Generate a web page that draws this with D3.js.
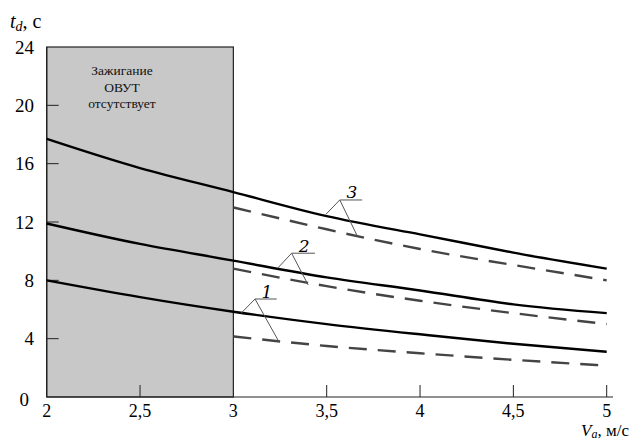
<!DOCTYPE html>
<html>
<head>
<meta charset="utf-8">
<script src="https://cdn.jsdelivr.net/npm/d3@7/dist/d3.min.js"></script>
<style>
  body { margin: 0; background: #fff; }
  text { font-family: "DejaVu Serif", serif; }
  text.ls { font-family: "Liberation Serif"; }
</style>
</head>
<body>
<div id="chart"></div>
<script>
var width = 635,
    height = 441;

// air velocity, m/s
var speeds = [2, 2.5, 3, 3.5, 4, 4.5, 5];
var speedsDashed = [3, 3.5, 4, 4.5, 5];

// ignition delay time, s (solid curves)
var solid1 = [8.0, 6.85, 5.85, 5.0, 4.3, 3.65, 3.1];
var solid2 = [11.9, 10.5, 9.35, 8.2, 7.3, 6.35, 5.75];
var solid3 = [17.7, 15.7, 14.05, 12.4, 11.15, 9.9, 8.8];

// dashed curves
var dashed1 = [4.15, 3.5, 3.0, 2.55, 2.15];
var dashed2 = [8.8, 7.6, 6.6, 5.75, 5.0];
var dashed3 = [13.0, 11.5, 10.15, 9.05, 8.0];

var xTicks = [2, 2.5, 3, 3.5, 4, 4.5, 5];
var yTicks = [0, 4, 8, 12, 16, 20, 24];
var noIgnition = [2, 3];
var boxText = ["Зажигание", "ОВУТ", "отсутствует"];

// callout labels: name, hub, end of shelf, solid end, dashed end (data coords)
var callouts = [
  { name: "1", hub: [3.116, 6.72], shelf: 3.232, solid: [3.041, 5.74], dashed: [3.246, 3.75] },
  { name: "2", hub: [3.312, 9.86], shelf: 3.437, solid: [3.237, 8.83], dashed: [3.401, 7.68] },
  { name: "3", hub: [3.57, 13.51], shelf: 3.69, solid: [3.496, 12.53], dashed: [3.666, 10.99] }
];

var x = d3.scaleLinear().domain([2, 5]).range([46.7, 606.7]);
var y = d3.scaleLinear().domain([0, 24]).range([397, 47]);

var svg = d3.select("#chart").append("svg")
    .attr("width", width)
    .attr("height", height)
    .style("display", "block");

// grey zone
svg.append("rect")
    .attr("x", x(noIgnition[0]))
    .attr("y", y(24))
    .attr("width", x(noIgnition[1]) - x(noIgnition[0]))
    .attr("height", y(0) - y(24))
    .attr("fill", "#c8c8c8")
    .attr("stroke", "#222")
    .attr("stroke-width", 1.2);

svg.append("text")
    .attr("class", "ls")
    .attr("font-size", 13.5)
    .attr("text-anchor", "middle")
    .attr("fill", "#111")
  .selectAll("tspan")
    .data(boxText)
  .enter().append("tspan")
    .attr("x", 122)
    .attr("y", function(d, i) { return 75 + i * 16.5; })
    .text(function(d) { return d; });

// axes
svg.append("line")
    .attr("x1", x(2)).attr("x2", 613)
    .attr("y1", y(0)).attr("y2", y(0))
    .attr("stroke", "#222").attr("stroke-width", 1.2);
svg.append("line")
    .attr("x1", x(2)).attr("x2", x(2))
    .attr("y1", y(0)).attr("y2", y(24))
    .attr("stroke", "#222").attr("stroke-width", 1.2);

svg.selectAll(".xtick")
    .data(xTicks.filter(function(d) { return d !== 2 && d !== 3; }))
  .enter().append("line")
    .attr("x1", function(d) { return x(d); })
    .attr("x2", function(d) { return x(d); })
    .attr("y1", y(0))
    .attr("y2", y(0) - 12)
    .attr("stroke", "#222").attr("stroke-width", 1);

svg.selectAll(".ytick")
    .data(yTicks.filter(function(d) { return d > 0 && d < 24; }))
  .enter().append("line")
    .attr("x1", x(2))
    .attr("x2", x(2) + 12)
    .attr("y1", function(d) { return y(d); })
    .attr("y2", function(d) { return y(d); })
    .attr("stroke", "#222").attr("stroke-width", 1);

var fmt = function(d) { return String(d).replace(".", ","); };

svg.selectAll(".xlabel")
    .data(xTicks)
  .enter().append("text")
    .attr("class", "ls")
    .attr("x", function(d) { return x(d); })
    .attr("y", 417)
    .attr("text-anchor", "middle")
    .attr("font-size", 18)
    .text(fmt);

svg.selectAll(".ylabel")
    .data(yTicks)
  .enter().append("text")
    .attr("class", "ls")
    .attr("x", function(d) { return d === 0 ? 29 : 34; })
    .attr("y", function(d) { return d === 0 ? 406 : y(d) + 6.5; })
    .attr("text-anchor", "end")
    .attr("font-size", 19)
    .text(fmt);

// axis titles
var yTitle = svg.append("text").attr("class", "ls").attr("x", 10).attr("y", 28).attr("font-size", 20);
yTitle.append("tspan").attr("font-style", "italic").text("t");
yTitle.append("tspan").attr("font-style", "italic").attr("font-size", 14).attr("dy", 3).text("d");
yTitle.append("tspan").attr("dy", -3).text(", с");

var xTitle = svg.append("text").attr("class", "ls").attr("x", 629).attr("y", 436).attr("text-anchor", "end").attr("font-size", 17);
xTitle.append("tspan").attr("font-style", "italic").text("V");
xTitle.append("tspan").attr("font-style", "italic").attr("font-size", 12).attr("dy", 2).text("a");
xTitle.append("tspan").attr("dy", -2).text(", м/с");

// curves
var line = d3.line()
    .x(function(d) { return x(d[0]); })
    .y(function(d) { return y(d[1]); })
    .curve(d3.curveNatural);

[solid1, solid2, solid3].forEach(function(s) {
  svg.append("path")
      .attr("d", line(d3.zip(speeds, s)))
      .attr("fill", "none")
      .attr("stroke", "#000")
      .attr("stroke-width", 2.4);
});

[dashed1, dashed2, dashed3].forEach(function(s) {
  svg.append("path")
      .attr("d", line(d3.zip(speedsDashed, s)))
      .attr("fill", "none")
      .attr("stroke", "#444")
      .attr("stroke-width", 2.4)
      .attr("stroke-dasharray", "18,11");
});

// callouts
callouts.forEach(function(c) {
  var g = svg.append("g").attr("stroke", "#555").attr("stroke-width", 1).attr("fill", "none");
  g.append("line").attr("x1", x(c.hub[0])).attr("y1", y(c.hub[1])).attr("x2", x(c.shelf)).attr("y2", y(c.hub[1]));
  g.append("line").attr("x1", x(c.hub[0])).attr("y1", y(c.hub[1])).attr("x2", x(c.solid[0])).attr("y2", y(c.solid[1]));
  g.append("line").attr("x1", x(c.hub[0])).attr("y1", y(c.hub[1])).attr("x2", x(c.dashed[0])).attr("y2", y(c.dashed[1]));
  svg.append("text")
      .attr("x", (x(c.hub[0]) + x(c.shelf)) / 2 + 1)
      .attr("y", y(c.hub[1]) - 1.5)
      .attr("text-anchor", "middle")
      .attr("font-size", 17)
      .attr("font-style", "italic")
      .text(c.name);
});
</script>
</body>
</html>
